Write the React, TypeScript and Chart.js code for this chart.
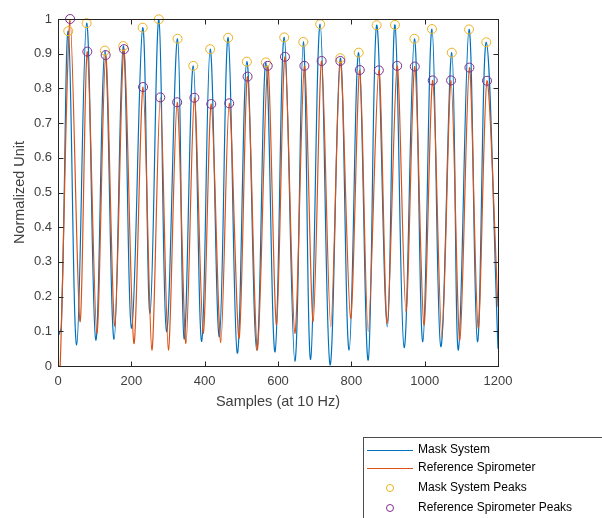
import React, { useEffect, useRef } from 'react';
import { Chart, registerables } from 'chart.js';

Chart.register(...registerables);

const FONT = '"Liberation Sans", Arial, Helvetica, sans-serif';

// Peaks (sample index, normalized value)
const maskPeakX = [28, 78, 128, 178, 231, 275, 326, 369, 415, 464, 515, 567, 617, 669, 715, 770, 820, 869, 919, 972, 1020, 1074, 1121, 1168];
const maskPeakY = [0.965, 0.988, 0.909, 0.922, 0.975, 0.999, 0.943, 0.865, 0.913, 0.946, 0.877, 0.875, 0.947, 0.934, 0.985, 0.887, 0.903, 0.982, 0.983, 0.943, 0.971, 0.903, 0.970, 0.933];
const refPeakX = [33, 80, 130, 180, 232, 279, 325, 372, 418, 467, 517, 572, 619, 672, 719, 770, 823, 875, 925, 973, 1022, 1072, 1122, 1170];
const refPeakY = [1.0, 0.906, 0.896, 0.913, 0.804, 0.774, 0.760, 0.773, 0.755, 0.757, 0.834, 0.865, 0.891, 0.865, 0.879, 0.879, 0.853, 0.852, 0.865, 0.863, 0.823, 0.823, 0.860, 0.822];

// Troughs
const maskTroughX = [51, 103, 153, 201, 251, 296, 344, 392, 440, 489, 542, 592, 646, 689, 742, 794, 846, 898, 944, 995, 1044, 1092, 1144];
const maskTroughY = [0.061, 0.075, 0.077, 0.109, 0.152, 0.099, 0.078, 0.071, 0.084, 0.037, 0.046, 0.041, 0.014, 0.019, 0.003, 0.046, 0.017, 0.113, 0.053, 0.070, 0.056, 0.046, 0.070];
const refTroughX = [60, 106, 155, 207, 256, 301, 349, 396, 444, 494, 544, 596, 646, 696, 744, 798, 846, 898, 949, 998, 1047, 1096, 1146];
const refTroughY = [0.128, 0.094, 0.115, 0.065, 0.046, 0.046, 0.065, 0.094, 0.067, 0.080, 0.046, 0.118, 0.094, 0.128, 0.113, 0.137, 0.099, 0.123, 0.156, 0.118, 0.080, 0.075, 0.109];

// Signal start / end samples
const maskEdgeX = [0, 9, 1200];
const maskEdgeY = [0.085, 0.112, 0.05];
const refEdgeX = [0, 6, 1200];
const refEdgeY = [0.0, 0.0, 0.17];

const xTicks = [0, 200, 400, 600, 800, 1000, 1200];
const yTicks = [0, 0.1, 0.2, 0.3, 0.4, 0.5, 0.6, 0.7, 0.8, 0.9, 1];

const legendLabels = ['Mask System', 'Reference Spirometer', 'Mask System Peaks', 'Reference Spirometer Peaks'];

const BLUE = '#0072BD';
const ORANGE = '#D95319';
const YELLOW = '#EDB120';
const PURPLE = '#7E2F8E';
const AXIS = '#262626';
const LABEL = '#404040';

function pts(xs: number[], ys: number[]) {
  return xs.map((x, i) => ({ x, y: ys[i] }));
}
function merged(...groups: { x: number; y: number }[][]) {
  return groups.flat().sort((a, b) => a.x - b.x);
}

const boxPlugin = {
  id: 'matlabBox',
  afterDraw(chart: any) {
    const { ctx, chartArea } = chart;
    const l = Math.round(chartArea.left) + 0.5;
    const r = Math.round(chartArea.right) + 0.5;
    const t = Math.round(chartArea.top) + 0.5;
    const b = Math.round(chartArea.bottom) + 0.5;
    ctx.save();
    ctx.strokeStyle = AXIS;
    ctx.lineWidth = 1;
    ctx.strokeRect(l, t, r - l, b - t);
    const tl = 5;
    ctx.beginPath();
    xTicks.forEach((v) => {
      const px = Math.round(chart.scales.x.getPixelForValue(v)) + 0.5;
      ctx.moveTo(px, b); ctx.lineTo(px, b - tl);
      ctx.moveTo(px, t); ctx.lineTo(px, t + tl);
    });
    yTicks.forEach((v) => {
      const py = Math.round(chart.scales.y.getPixelForValue(v)) + 0.5;
      ctx.moveTo(l, py); ctx.lineTo(l + tl, py);
      ctx.moveTo(r, py); ctx.lineTo(r - tl, py);
    });
    ctx.stroke();

    // Legend
    const lx = 363.5, ly = 437.5;
    ctx.strokeStyle = '#4d4d4d';
    ctx.fillStyle = '#ffffff';
    ctx.fillRect(lx, ly, 300, 120);
    ctx.strokeRect(lx, ly, 300, 120);
    const rows = [450, 468, 488, 508];
    ctx.font = `12px ${FONT}`;
    ctx.textBaseline = 'middle';
    ctx.textAlign = 'left';
    rows.forEach((ry, i) => {
      if (i < 2) {
        ctx.strokeStyle = i === 0 ? BLUE : ORANGE;
        ctx.lineWidth = 1;
        ctx.beginPath();
        ctx.moveTo(367, ry + 0.5);
        ctx.lineTo(413, ry + 0.5);
        ctx.stroke();
      } else {
        ctx.strokeStyle = i === 2 ? YELLOW : PURPLE;
        ctx.lineWidth = 1;
        ctx.beginPath();
        ctx.arc(390, ry, 3.5, 0, Math.PI * 2);
        ctx.stroke();
      }
      ctx.fillStyle = '#000000';
      ctx.fillText(legendLabels[i], 418, ry);
    });
    ctx.restore();
  },
};

export default function App() {
  const ref = useRef<HTMLCanvasElement>(null);
  useEffect(() => {
    document.body.style.margin = '0';
    const canvas = ref.current!;
    const chart = new Chart(canvas, {
      type: 'scatter',
      data: {
        datasets: [
          {
            label: legendLabels[0],
            data: merged(pts(maskPeakX, maskPeakY), pts(maskTroughX, maskTroughY), pts(maskEdgeX, maskEdgeY)),
            showLine: true,
            borderColor: BLUE,
            borderWidth: 1.2,
            pointRadius: 0,
            tension: 0.4,
            order: 3,
          },
          {
            label: legendLabels[1],
            data: merged(pts(refPeakX, refPeakY), pts(refTroughX, refTroughY), pts(refEdgeX, refEdgeY)),
            showLine: true,
            borderColor: ORANGE,
            borderWidth: 1.2,
            pointRadius: 0,
            tension: 0.3,
            order: 2,
          },
          {
            label: legendLabels[2],
            data: pts(maskPeakX, maskPeakY),
            showLine: false,
            pointRadius: 4.5,
            pointBorderWidth: 1,
            pointBorderColor: YELLOW,
            pointBackgroundColor: 'rgba(0,0,0,0)',
            clip: false,
            order: 1,
          },
          {
            label: legendLabels[3],
            data: pts(refPeakX, refPeakY),
            showLine: false,
            pointRadius: 4.5,
            pointBorderWidth: 1,
            pointBorderColor: PURPLE,
            pointBackgroundColor: 'rgba(0,0,0,0)',
            clip: false,
            order: 0,
          },
        ],
      } as any,
      options: {
        responsive: false,
        animation: false,
        events: [],
        layout: { padding: { left: 0, right: 104, top: 19, bottom: 0 } },
        plugins: { legend: { display: false }, tooltip: { enabled: false } },
        scales: {
          x: {
            type: 'linear',
            min: 0,
            max: 1200,
            grid: { display: false, drawTicks: false },
            border: { display: false },
            afterFit: (s: any) => { s.height = 152; },
            afterBuildTicks: (s: any) => { s.ticks = xTicks.map((v) => ({ value: v })); },
            ticks: {
              autoSkip: false,
              maxRotation: 0,
              padding: 8,
              color: LABEL,
              font: { family: FONT, size: 13 },
              callback: (v: any) => String(v),
            },
            title: {
              display: true,
              text: 'Samples (at 10 Hz)',
              color: LABEL,
              font: { family: FONT, size: 14.5 },
              padding: { top: 0, bottom: 107 },
            },
          },
          y: {
            type: 'linear',
            min: 0,
            max: 1,
            grid: { display: false, drawTicks: false },
            border: { display: false },
            afterFit: (s: any) => { s.width = 58; },
            afterBuildTicks: (s: any) => { s.ticks = yTicks.map((v) => ({ value: v })); },
            ticks: {
              autoSkip: false,
              padding: 6,
              color: LABEL,
              font: { family: FONT, size: 13 },
              callback: (v: any) => String(Math.round(Number(v) * 10) / 10),
            },
            title: {
              display: true,
              text: 'Normalized Unit',
              color: LABEL,
              font: { family: FONT, size: 14.5 },
              padding: { top: 11, bottom: 0 },
            },
          },
        },
      } as any,
      plugins: [boxPlugin],
    });
    return () => chart.destroy();
  }, []);
  return (
    <div style={{ width: 602, height: 518, background: '#ffffff' }}>
      <canvas ref={ref} width={602} height={518} style={{ display: 'block', width: 602, height: 518 }} />
    </div>
  );
}
